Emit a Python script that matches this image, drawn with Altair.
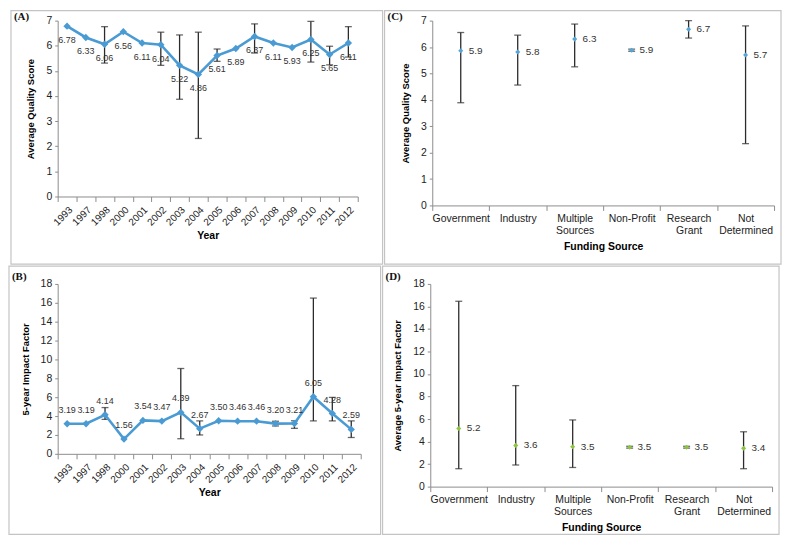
import altair as alt
import pandas as pd

# ---------------- data ----------------
years = ["1993", "1997", "1998", "2000", "2001", "2002", "2003", "2004",
         "2005", "2006", "2007", "2008", "2009", "2010", "2011", "2012"]

quality = [6.78, 6.33, 6.06, 6.56, 6.11, 6.04, 5.22, 4.86,
           5.61, 5.89, 6.37, 6.11, 5.93, 6.25, 5.65, 6.11]
quality_lo = [None, None, 5.31, None, None, 5.22, 3.87, 2.31,
              5.38, None, 5.71, None, None, 5.35, 5.24, 5.55]
quality_hi = [None, None, 6.76, None, None, 6.54, 6.43, 6.54,
              5.87, None, 6.87, None, None, 6.97, 5.98, 6.76]

impact = [3.19, 3.19, 4.14, 1.56, 3.54, 3.47, 4.39, 2.67,
          3.50, 3.46, 3.46, 3.20, 3.21, 6.05, 4.28, 2.59]
impact_lo = [None, None, 3.65, None, None, None, 1.60, 2.00,
             None, None, None, 2.95, 2.70, 3.49, 3.49, 1.73]
impact_hi = [None, None, 4.90, None, None, None, 9.04, 3.49,
             None, None, None, 3.45, 3.50, 16.50, 5.98, 3.49]

funding = ["Government", "Industry", "Multiple Sources", "Non-Profit",
           "Research Grant", "Not Determined"]

fund_quality = [5.86, 5.81, 6.30, 5.88, 6.67, 5.70]
fund_quality_lo = [3.89, 4.56, 5.25, 5.84, 6.34, 2.34]
fund_quality_hi = [6.55, 6.45, 6.87, 5.92, 7.00, 6.80]
fund_quality_text = ["5.9", "5.8", "6.3", "5.9", "6.7", "5.7"]

fund_impact = [5.16, 3.66, 3.54, 3.50, 3.50, 3.40]
fund_impact_lo = [1.59, 1.92, 1.70, 3.42, 3.42, 1.59]
fund_impact_hi = [16.46, 8.97, 5.92, 3.58, 3.58, 4.87]
fund_impact_text = ["5.2", "3.6", "3.5", "3.5", "3.5", "3.4"]

# ---------------- style ----------------
BLUE = "#4a9bd4"
LBLUE = "#55a6d8"
GREEN = "#8cc63e"
BAR = "#2b2b2b"
FONT = "Liberation Sans"
BORDER = "#c4c4c4"

one = pd.DataFrame({"k": [0]})


def frame(x1, x2, y1, y2, tag, tx, ty):
    box = alt.Chart(one).mark_rect(fillOpacity=0, stroke=BORDER, strokeWidth=1.2).encode(
        x=alt.value(x1), x2=alt.value(x2), y=alt.value(y1), y2=alt.value(y2))
    lab = alt.Chart(one).mark_text(text=tag, font="Liberation Serif", fontWeight="bold",
                                   fontSize=11, align="left", baseline="middle",
                                   color="#111111").encode(x=alt.value(tx), y=alt.value(ty))
    return box, lab


def panel(cats, vals, lo, hi, texts, xtitle, ytitle, ydom, yvals, w, h,
          color, line, label_mode, year_axis, box, lab):
    pts = pd.DataFrame({"c": cats, "v": vals, "t": texts})
    err = pd.DataFrame({"c": cats, "lo": lo, "hi": hi}).dropna()
    caps = pd.concat([err[["c"]].assign(v=err["lo"]), err[["c"]].assign(v=err["hi"])])

    if year_axis:
        axis = alt.Axis(title=xtitle, labelAngle=-45, tickBand="extent", tickSize=5,
                        labelPadding=3, titlePadding=3, labelFontSize=10)
    else:
        axis = alt.Axis(title=xtitle, labelAngle=0, tickBand="extent", tickSize=5,
                        labelExpr="split(datum.label, ' ')", labelPadding=3,
                        titlePadding=6, labelLineHeight=12, labelFontSize=10.5)

    def X():
        return alt.X("c:N", sort=cats, bandPosition=0.5,
                     scale=alt.Scale(type="band", paddingInner=0, paddingOuter=0),
                     axis=axis)

    def Y(f):
        return alt.Y(f, scale=alt.Scale(domain=ydom, nice=False, zero=True),
                     axis=alt.Axis(title=ytitle, values=yvals, tickSize=3,
                                   titlePadding=10, labelPadding=3, labelFontSize=10.5,
                                   titleFontSize=9.5))

    layers = []
    rule = alt.Chart(err).mark_rule(color=BAR, strokeWidth=1.3).encode(
        x=X(), y=Y("lo:Q"), y2="hi:Q")
    cap = alt.Chart(caps).mark_tick(color=BAR, size=7, thickness=1.3,
                                    orient="horizontal").encode(x=X(), y=Y("v:Q"))
    layers += [rule, cap]
    if line:
        layers.append(alt.Chart(pts).mark_line(color=color, strokeWidth=2.6).encode(
            x=X(), y=Y("v:Q")))
        layers.append(alt.Chart(pts).mark_point(shape="diamond", filled=True, size=55,
                                                color=color, opacity=1).encode(
            x=X(), y=Y("v:Q")))
    else:
        layers.append(alt.Chart(pts).mark_point(shape="diamond", filled=True, size=26,
                                                color=color, opacity=1).encode(
            x=X(), y=Y("v:Q")))
    if label_mode == "below":
        txt = alt.Chart(pts).mark_text(dy=14, fontSize=9, color="#333333", font=FONT)
    elif label_mode == "above":
        txt = alt.Chart(pts).mark_text(dy=-14, fontSize=9, color="#333333", font=FONT)
    else:
        txt = alt.Chart(pts).mark_text(dx=8, align="left", fontSize=10,
                                       color="#333333", font=FONT)
    layers.append(txt.encode(x=X(), y=Y("v:Q"), text="t:N"))
    layers += [box, lab]
    return alt.layer(*layers).properties(width=w, height=h)


def fmt2(a):
    return ["%.2f" % v for v in a]


pA = panel(years, quality, quality_lo, quality_hi, fmt2(quality), "Year",
           "Average Quality Score", [0, 7], list(range(0, 8)), 302, 177, BLUE, True,
           "below", True, *frame(-47, 327, -10, 245, "(A)", -44, -4))

pB = panel(years, impact, impact_lo, impact_hi, fmt2(impact), "Year",
           "5-year Impact Factor", [0, 18], list(range(0, 19, 2)), 305, 171, BLUE, True,
           "above", True, *frame(-49, 325, -18, 252, "(B)", -46, -7))

pC = panel(funding, fund_quality, fund_quality_lo, fund_quality_hi, fund_quality_text,
           "Funding Source", "Average Quality Score", [0, 7], list(range(0, 8)),
           344, 186, LBLUE, False, "right", False,
           *frame(-48, 351, -10, 245, "(C)", -45, -4))

pD = panel(funding, fund_impact, fund_impact_lo, fund_impact_hi, fund_impact_text,
           "Funding Source", "Average 5-year Impact Factor", [0, 18],
           list(range(0, 19, 2)), 344, 204, GREEN, False, "right", False,
           *frame(-48, 351, -18, 252, "(D)", -45, -7))

chart = alt.vconcat(
    alt.hconcat(pA, pC, spacing=0),
    alt.hconcat(pB, pD, spacing=0),
    spacing=0,
).properties(padding=0).configure_view(strokeWidth=0).configure_axis(
    labelFont=FONT, titleFont=FONT, titleFontSize=10.5,
    titleFontWeight="bold", titleColor="#000000", labelColor="#222222",
    domainColor="#8c8c8c", tickColor="#8c8c8c", grid=False,
)

chart.save("out.html", embed_options={"renderer": "svg", "actions": False})
